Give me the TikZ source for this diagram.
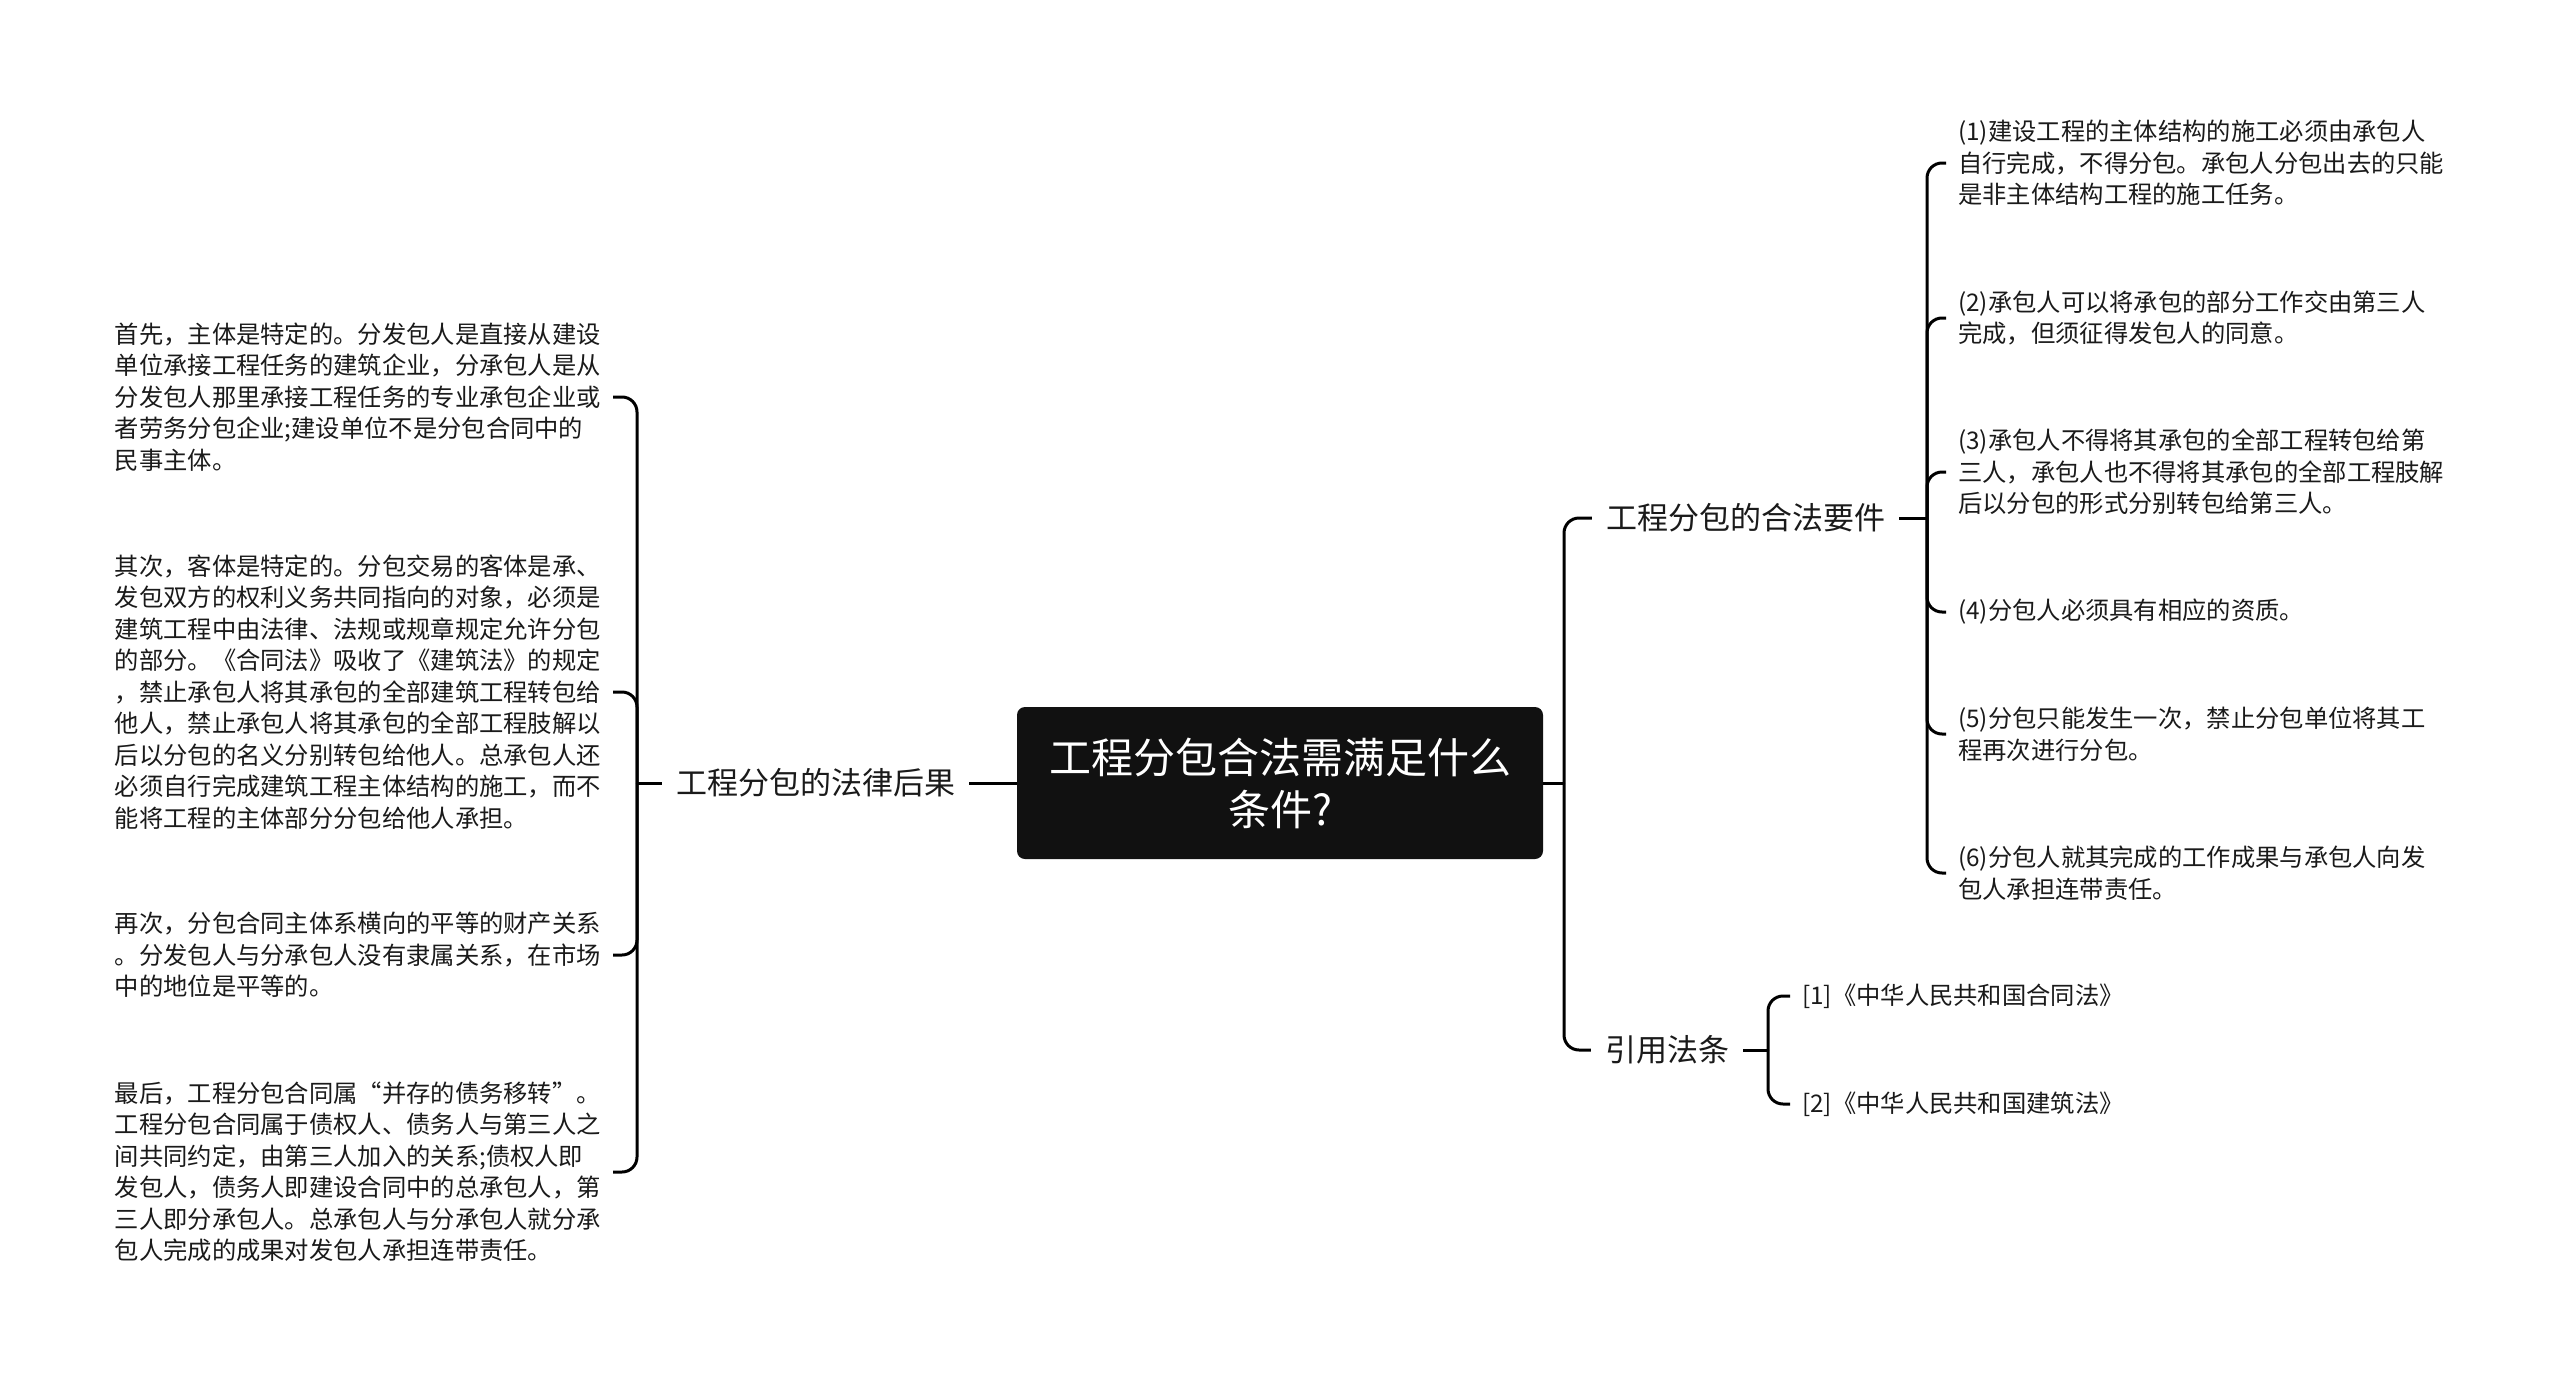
\documentclass[tikz,border=0pt]{standalone}
\usepackage{fontspec}
\newfontfamily\cjk{Noto Sans CJK SC}
\definecolor{boxfill}{HTML}{111111}
\definecolor{txt}{HTML}{1A1A1A}
\tikzset{
  conn/.style={line width=3pt, draw=black},
  rc/.style={conn, rounded corners=15pt},
  centerbox/.style={fill=boxfill, rounded corners=8pt, minimum width=526pt, minimum height=152pt, text=white, align=center, inner sep=0pt, font=\cjk\fontsize{42}{52}\selectfont},
  mainlbl/.style={text=txt, inner xsep=14pt, inner ysep=4pt, font=\cjk\fontsize{31}{38}\selectfont},
  leafL/.style={text=txt, align=left, anchor=east, inner xsep=12pt, inner ysep=0pt, font=\cjk\fontsize{24.3}{31.5}\selectfont},
  leafR/.style={text=txt, align=left, anchor=west, inner xsep=12pt, inner ysep=0pt, font=\cjk\fontsize{24.3}{31.5}\selectfont}
}
\begin{document}
\begin{tikzpicture}[x=1pt,y=-1pt]
\useasboundingbox[fill=white] (0,0) rectangle (2560,1381);

% central
\node[centerbox] (c) at (1280,783) {工程分包合法需满足什么\\条件?};

% main labels
\node[mainlbl] (lbl) at (815.5,783) {工程分包的法律后果};
\node[mainlbl] (req) at (1745.5,518) {工程分包的合法要件};
\node[mainlbl] (ref) at (1667,1050) {引用法条};

% junction coordinates
\coordinate (lj) at (637,783);
\coordinate (rj) at (1564,783);
\coordinate (qj) at (1927,518);
\coordinate (fj) at (1768,1050);

% left leaves
\node[leafL] (l1) at (613,397) {首先，主体是特定的。分发包人是直接从建设\\单位承接工程任务的建筑企业，分承包人是从\\分发包人那里承接工程任务的专业承包企业或\\者劳务分包企业;建设单位不是分包合同中的\\民事主体。};
\node[leafL] (l2) at (613,692) {其次，客体是特定的。分包交易的客体是承、\\发包双方的权利义务共同指向的对象，必须是\\建筑工程中由法律、法规或规章规定允许分包\\的部分。《合同法》吸收了《建筑法》的规定\\，禁止承包人将其承包的全部建筑工程转包给\\他人，禁止承包人将其承包的全部工程肢解以\\后以分包的名义分别转包给他人。总承包人还\\必须自行完成建筑工程主体结构的施工，而不\\能将工程的主体部分分包给他人承担。};
\node[leafL] (l3) at (613,955) {再次，分包合同主体系横向的平等的财产关系\\。分发包人与分承包人没有隶属关系，在市场\\中的地位是平等的。};
\node[leafL] (l4) at (613,1172) {最后，工程分包合同属“并存的债务移转”。\\工程分包合同属于债权人、债务人与第三人之\\间共同约定，由第三人加入的关系;债权人即\\发包人，债务人即建设合同中的总承包人，第\\三人即分承包人。总承包人与分承包人就分承\\包人完成的成果对发包人承担连带责任。};

% right leaves
\node[leafR] (r1) at (1946,163) {(1)建设工程的主体结构的施工必须由承包人\\自行完成，不得分包。承包人分包出去的只能\\是非主体结构工程的施工任务。};
\node[leafR] (r2) at (1946,318) {(2)承包人可以将承包的部分工作交由第三人\\完成，但须征得发包人的同意。};
\node[leafR] (r3) at (1946,472) {(3)承包人不得将其承包的全部工程转包给第\\三人，承包人也不得将其承包的全部工程肢解\\后以分包的形式分别转包给第三人。};
\node[leafR] (r4) at (1946,612) {(4)分包人必须具有相应的资质。};
\node[leafR] (r5) at (1946,734) {(5)分包只能发生一次，禁止分包单位将其工\\程再次进行分包。};
\node[leafR] (r6) at (1946,873) {(6)分包人就其完成的工作成果与承包人向发\\包人承担连带责任。};

% references
\node[leafR] (f1) at (1790,996) {[1]《中华人民共和国合同法》};
\node[leafR] (f2) at (1790,1104) {[2]《中华人民共和国建筑法》};

% connectors: left
\draw[conn] (c.west) -- (lbl.east);
\draw[conn] (lbl.west) -- (lj);
\foreach \n in {l1,l2,l3,l4} \draw[rc] (lj) |- (\n.east);

% connectors: right
\draw[conn] (c.east) -- (rj);
\draw[rc] (rj) |- (req.west);
\draw[rc] (rj) |- (ref.west);
\draw[conn] (req.east) -- (qj);
\foreach \n in {r1,r2,r3,r4,r5,r6} \draw[rc] (qj) |- (\n.west);
\draw[conn] (ref.east) -- (fj);
\draw[rc] (fj) |- (f1.west);
\draw[rc] (fj) |- (f2.west);
\end{tikzpicture}
\end{document}
